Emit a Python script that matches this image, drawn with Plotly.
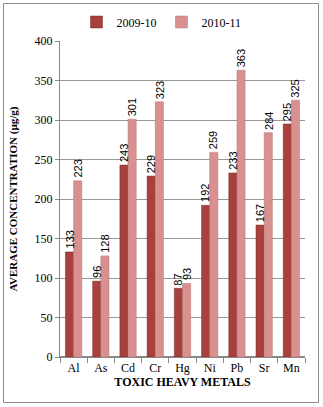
import plotly.graph_objects as go

metals = ["Al", "As", "Cd", "Cr", "Hg", "Ni", "Pb", "Sr", "Mn"]
y2009 = [133, 96, 243, 229, 87, 192, 233, 167, 295]
y2010 = [223, 128, 301, 323, 93, 259, 363, 284, 325]
yticks = [0, 50, 100, 150, 200, 250, 300, 350, 400]

W, H = 323, 407
ml, mr, mt, mb = 60, 18, 41, 50
pw, ph = W - ml - mr, H - mt - mb

def px_x(x):
    return (x - ml) / pw

def px_y(y):
    return (H - mb - y) / ph

bargap = 0.4
bw = (1 - bargap) / 2
xs = list(range(len(metals)))

fig = go.Figure()
fig.add_bar(x=xs, y=y2009, name="2009-10", marker_color="#A8403E",
            marker_line=dict(color="#7A2B2A", width=0.5),
            width=bw, offset=-bw)
fig.add_bar(x=xs, y=y2010, name="2010-11", marker_color="#D9918F",
            marker_line=dict(color="#B57472", width=0.5),
            width=bw, offset=0)

for series, sign in ((y2009, -1), (y2010, 1)):
    for i, v in enumerate(series):
        fig.add_annotation(x=i + sign * bw / 2, y=v, text=str(v), showarrow=False,
                           textangle=-90, xanchor="center", yanchor="bottom",
                           yshift=1,
                           font=dict(family="Liberation Sans", size=11, color="black"))

fig.update_layout(
    width=W, height=H,
    margin=dict(l=ml, r=mr, t=mt, b=mb, autoexpand=False),
    paper_bgcolor="white", plot_bgcolor="white",
    barmode="overlay",
    font=dict(family="Liberation Serif", size=12, color="black"),
    showlegend=True,
    legend=dict(orientation="h", xref="container", yref="container",
                x=0.5, xanchor="center", y=1 - 22 / H, yanchor="middle",
                font=dict(family="Liberation Serif", size=12),
                traceorder="normal"),
    xaxis=dict(tickvals=xs, ticktext=metals, range=[-0.5, len(metals) - 0.5],
               showline=True, linecolor="#888888", ticks="",
               minor=dict(ticks="outside", tick0=-0.5, dtick=1, ticklen=5,
                          tickcolor="#888888", showgrid=False),
               tickfont=dict(family="Liberation Serif", size=12),
               title=dict(text="<b>TOXIC HEAVY METALS</b>", standoff=2,
                          font=dict(family="Liberation Serif", size=12))),
    yaxis=dict(range=[0, 400], tickvals=yticks, showline=True, linecolor="#888888",
               ticks="outside", ticklen=4, tickcolor="#888888",
               showgrid=True, gridcolor="#999999", gridwidth=1,
               zeroline=True, zerolinecolor="#888888",
               tickfont=dict(family="Liberation Serif", size=12),
               title=dict(text="<b>AVERAGE CONCENTRATION (µg/g)</b>", standoff=14,
                          font=dict(family="Liberation Serif", size=11))),
)

fig.add_shape(type="rect", xref="paper", yref="paper",
              x0=px_x(3.5), x1=px_x(318.5), y0=px_y(402.5), y1=px_y(3.5),
              line=dict(color="#8C8C8C", width=1), layer="below")

fig.write_html("out.html", config={"displayModeBar": False},
               post_script="document.body.style.margin='0';document.body.style.overflow='hidden';")
